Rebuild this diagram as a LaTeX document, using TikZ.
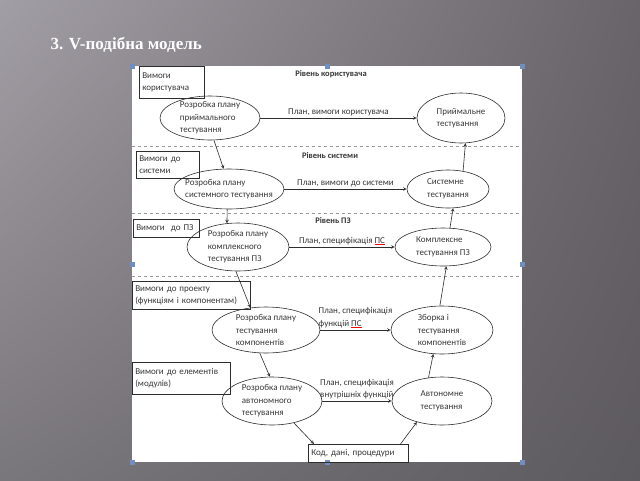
\documentclass[tikz,border=0pt]{standalone}
\usepackage{fontspec}
\setmainfont{Carlito}
\newfontfamily\titlefont{Liberation Serif}
\usetikzlibrary{shapes.geometric,shadings}
\definecolor{bgul}{RGB}{162,158,165}
\definecolor{bgur}{RGB}{104,100,106}
\definecolor{bgll}{RGB}{122,119,124}
\definecolor{bglr}{RGB}{92,89,95}
\definecolor{ink}{RGB}{55,55,55}
\definecolor{wire}{RGB}{45,45,45}
\definecolor{handle}{RGB}{112,142,196}
\newcommand{\spell}[1]{{\color{red}\underline{\color{ink}#1}}}

\begin{document}
\begin{tikzpicture}[x=1pt,y=-1pt,font=\fontsize{9}{12.5}\selectfont]
	\tikzset{req/.style={draw=wire, line width=0.5pt, align=left, text=ink, inner xsep=3pt, inner ysep=0pt, anchor=north west}}
	\tikzset{plan/.style={ellipse, draw=wire, line width=0.6pt, align=left, text=ink, inner xsep=-20pt, inner ysep=-20pt}}
	\tikzset{lvl/.style={text=ink, font=\fontsize{8.5}{10}\selectfont\bfseries}}
	\tikzset{link/.style={-stealth, draw=wire, line width=0.6pt}}
	\tikzset{tag/.style={text=ink, align=left, inner sep=1.5pt}}
	\tikzset{level/.style={dashed, draw=gray!80, line width=0.6pt}}
	\shade[upper left=bgul, upper right=bgur, lower left=bgll, lower right=bglr] (0,0) rectangle (640,480);
	\node[anchor=west, text=white, font=\titlefont\bfseries\fontsize{17}{20}\selectfont] (ttl) at (47,45) {3. V-подібна модель};
	\fill[white] (132,66) rectangle (522,462);
	\foreach \y in {146,213,276}
		\draw[level] (132,\y) -- (522,\y);
	\foreach \x/\y in {132/66,327/66,522/66,132/264,522/264,132/462,327/462,522/462}
		\fill[handle] (\x-2.5,\y-2.5) rectangle ++(5,5);
	\node[req, text width=59, minimum height=32] (vk) at (139,66) {Вимоги\\користувача};
	\node[req, text width=57, minimum height=27] (vs) at (136,151) {Вимоги до\\системи};
	\node[req, text width=60, minimum height=18] (vpz) at (133,219) {Вимоги\ \ до ПЗ};
	\node[req, text width=112, minimum height=28] (vpr) at (132,281) {Вимоги до проекту\\(функціям і компонентам)};
	\node[req, text width=92, minimum height=32] (vel) at (132,362) {Вимоги до елементів\\(модулів)};
	\node[req, text width=94, minimum height=18] (kod) at (308,444) {Код, дані, процедури};
	\node[lvl] (lk) at (331,74) {Рівень користувача};
	\node[lvl] (ls) at (330,156) {Рівень системи};
	\node[lvl] (lpz) at (333,221) {Рівень ПЗ};
	\node[plan, minimum width=100, minimum height=44] (pr1) at (210,118) {Розробка плану\\приймального\\тестування};
	\node[plan, minimum width=110, minimum height=40] (pr2) at (229,189) {Розробка плану\\системного тестування};
	\node[plan, minimum width=102, minimum height=48] (pr3) at (238,247) {Розробка плану\\комплексного\\тестування ПЗ};
	\node[plan, minimum width=108, minimum height=46] (pr4) at (266,330) {Розробка плану\\тестування\\компонентів};
	\node[plan, minimum width=100, minimum height=48] (pr5) at (272,401) {Розробка плану\\автономного\\тестування};
	\node[plan, minimum width=88, minimum height=50] (pt) at (461,118) {Приймальне\\тестування};
	\node[plan, minimum width=82, minimum height=38] (st) at (448,189) {Системне\\тестування};
	\node[plan, minimum width=96, minimum height=38] (km) at (443,247) {Комплексне\\тестування ПЗ};
	\node[plan, minimum width=102, minimum height=48] (zb) at (442,330) {Зборка і\\тестування\\компонентів};
	\node[plan, minimum width=100, minimum height=48] (av) at (442,401) {Автономне\\тестування};
	\draw[link] (pr1.east) -- node[tag, above] {План, вимоги користувача} (pt.west);
	\draw[link] (pr2.east) -- node[tag, above] {План, вимоги до системи} (st.west);
	\draw[link] (pr3.east) -- node[tag, above] {План, специфікація \spell{ПС}} (km.west);
	\draw[link] (pr4.east) -- node[tag, above] {План, специфікація\\функцій \spell{ПС}} (zb.west);
	\draw[link] (pr5.east) -- node[tag, above] {План, специфікація\\внутрішніх функцій} (av.west);
	\draw[link] (pr1.-80) -- (pr2.105);
	\draw[link] (pr2.-95) -- (pr3.115);
	\draw[link] (pr3.-95) -- (pr4.125);
	\draw[link] (pr4.-105) -- (pr5.95);
	\draw[link] (pr5.-45) -- ([xshift=6pt]kod.north west);
	\draw[link] ([xshift=-8pt]kod.north east) -- (av.-140);
	\draw[link] (av.120) -- (zb.-110);
	\draw[link] (zb.95) -- (km.-80);
	\draw[link] (km.70) -- (st.-75);
	\draw[link] (st.50) -- (pt.-80);
\end{tikzpicture}
\end{document}
